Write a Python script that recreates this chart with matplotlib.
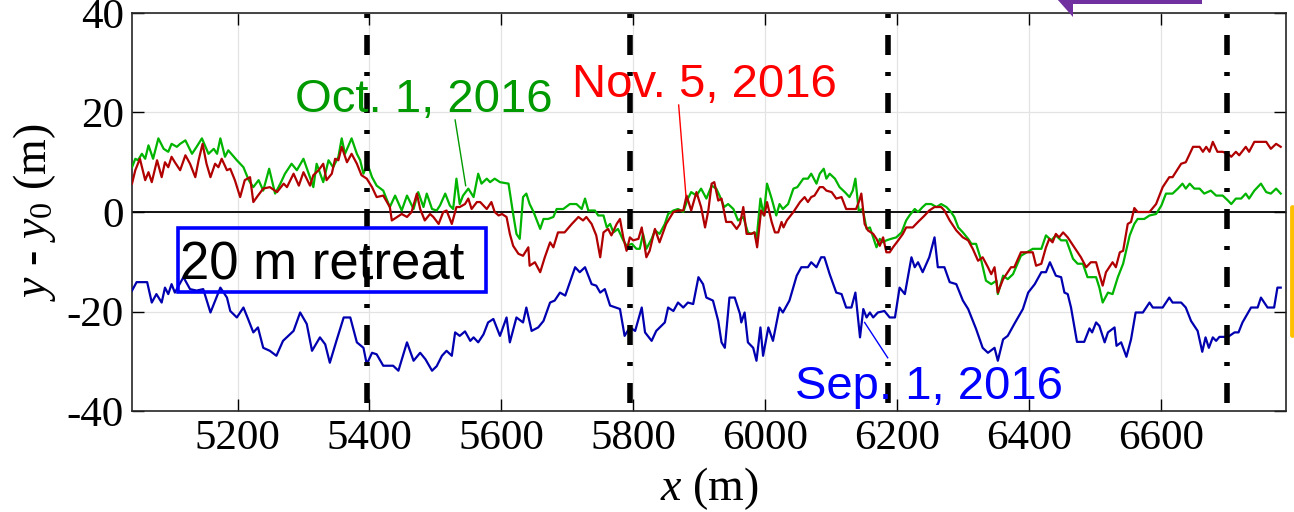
import matplotlib
matplotlib.use('Agg')
import matplotlib.pyplot as plt
from matplotlib.patches import Rectangle, Polygon
from matplotlib.lines import Line2D

# ---- data ----
sep_x = [5040, 5047, 5063, 5070, 5077, 5085, 5090, 5095, 5100, 5105, 5118, 5128, 5138, 5148, 5159,
         5174, 5184, 5189, 5199, 5209, 5216, 5224, 5231, 5239, 5249, 5259, 5269, 5285, 5295, 5305,
         5313, 5325, 5333, 5340, 5350, 5361, 5371, 5381, 5391, 5396, 5404, 5411, 5421, 5436, 5444,
         5457, 5467, 5477, 5485, 5495, 5502, 5510, 5517, 5525, 5530, 5537, 5545, 5553, 5558, 5565,
         5573, 5580, 5588, 5598, 5608, 5613, 5623, 5633, 5638, 5646, 5656, 5664, 5674, 5681, 5689,
         5697, 5712, 5719, 5727, 5737, 5744, 5750, 5757, 5765, 5780, 5787, 5795, 5803, 5813, 5818,
         5828, 5835, 5848, 5853, 5861, 5868, 5876, 5883, 5891, 5899, 5906, 5911, 5921, 5929, 5934,
         5939, 5946, 5954, 5962, 5964, 5969, 5974, 5982, 5987, 5993, 5997, 6005, 6012, 6022, 6027,
         6037, 6048, 6055, 6065, 6070, 6078, 6085, 6090, 6098, 6108, 6116, 6123, 6131, 6137, 6144,
         6149, 6154, 6159, 6164, 6171, 6181, 6189, 6197, 6204, 6212, 6222, 6227, 6232, 6239, 6249,
         6257, 6262, 6272, 6280, 6290, 6300, 6308, 6320, 6330, 6338, 6348, 6353, 6361, 6368, 6378,
         6391, 6399, 6409, 6419, 6426, 6432, 6441, 6449, 6454, 6459, 6464, 6473, 6484, 6492, 6496,
         6502, 6507, 6515, 6520, 6530, 6533, 6540, 6548, 6555, 6562, 6573, 6583, 6588, 6603, 6613,
         6618, 6631, 6638, 6646, 6656, 6663, 6668, 6673, 6679, 6684, 6689, 6702, 6712, 6718, 6724,
         6737, 6747, 6752, 6762, 6772, 6777, 6782]
sep_y = [-15.8, -14.1, -14.1, -18.2, -16.5, -18.2, -15.2, -16.5, -14.5, -16.2, -13.1, -15.5, -15.8, -15.5, -20.2,
         -15.2, -17.2, -19.9, -21.2, -19.2, -21.5, -24.2, -23.2, -27.3, -27.9, -28.9, -25.9, -23.9, -20.2, -22.5,
         -27.9, -25.2, -26.6, -30.3, -25.9, -21.2, -21.2, -26.2, -27.3, -30.6, -28.3, -28.6, -30.9, -30.9, -31.9,
         -26.2, -29.9, -28.3, -29.6, -31.9, -31.0, -28.9, -27.9, -28.9, -24.2, -24.9, -24.0, -25.9, -25.2, -26.2,
         -24.6, -22.2, -21.5, -24.9, -21.2, -26.2, -21.2, -22.2, -19.2, -23.9, -23.2, -21.9, -18.2, -17.8, -16.2,
         -16.8, -11.1, -12.1, -11.1, -14.5, -14.8, -16.2, -15.5, -18.8, -19.5, -24.9, -23.2, -23.9, -19.2, -24.2,
         -25.9, -23.9, -22.2, -19.2, -19.9, -18.2, -19.2, -18.2, -18.5, -13.1, -14.5, -17.2, -17.8, -21.9, -26.2,
         -27.3, -17.2, -17.2, -20.5, -22.2, -20.2, -26.2, -27.3, -29.9, -23.2, -28.9, -23.2, -25.9, -19.2, -20.2,
         -17.8, -12.8, -11.1, -11.1, -10.1, -11.1, -9.1, -9.1, -12.5, -16.2, -16.5, -19.2, -19.2, -16.2, -25.2,
         -19.5, -21.2, -20.2, -21.2, -20.2, -19.9, -21.2, -21.2, -15.2, -16.5, -9.1, -11.1, -10.1, -12.1, -9.1,
         -5.1, -11.1, -11.1, -14.1, -14.5, -17.8, -19.5, -23.5, -27.3, -28.3, -27.3, -29.9, -25.6, -24.9, -22.5,
         -19.5, -16.2, -14.5, -12.1, -12.1, -10.1, -12.8, -13.1, -16.2, -16.5, -19.2, -26.1, -26.1, -23.4, -24.2,
         -22.2, -22.9, -26.2, -24.2, -23.2, -26.9, -26.2, -29.1, -25.6, -20.2, -20.2, -18.2, -19.2, -19.2, -17.2,
         -18.2, -18.2, -19.2, -21.9, -23.9, -28.1, -25.2, -27.3, -25.2, -25.9, -25.1, -25.1, -24.2, -24.2, -22.2,
         -19.2, -19.2, -17.2, -19.2, -19.2, -15.2, -15.2]

oct_x = [5040, 5045, 5049, 5055, 5060, 5065, 5072, 5080, 5088, 5095, 5100, 5108, 5113, 5121, 5131,
         5138, 5146, 5156, 5164, 5169, 5174, 5181, 5186, 5199, 5209, 5217, 5224, 5232, 5239, 5248,
         5257, 5265, 5272, 5282, 5290, 5300, 5308, 5315, 5320, 5330, 5338, 5345, 5353, 5358, 5363,
         5373, 5381, 5386, 5391, 5397, 5404, 5411, 5421, 5431, 5439, 5449, 5457, 5467, 5474, 5482,
         5487, 5495, 5502, 5507, 5515, 5522, 5527, 5532, 5537, 5542, 5550, 5558, 5565, 5570, 5578,
         5583, 5590, 5598, 5611, 5618, 5623, 5628, 5633, 5638, 5643, 5649, 5659, 5664, 5671, 5679,
         5684, 5694, 5704, 5714, 5722, 5727, 5732, 5742, 5747, 5755, 5760, 5765, 5770, 5777, 5785,
         5790, 5798, 5805, 5810, 5815, 5820, 5828, 5833, 5840, 5848, 5853, 5861, 5868, 5876, 5883,
         5888, 5896, 5903, 5911, 5919, 5926, 5931, 5938, 5944, 5952, 5959, 5967, 5974, 5979, 5984,
         5987, 5993, 5998, 6003, 6010, 6017, 6022, 6027, 6035, 6043, 6049, 6058, 6065, 6070, 6078,
         6083, 6089, 6093, 6098, 6106, 6113, 6121, 6128, 6133, 6137, 6142, 6148, 6154, 6159, 6164,
         6169, 6174, 6179, 6184, 6191, 6199, 6207, 6214, 6219, 6227, 6232, 6239, 6244, 6252, 6260,
         6267, 6275, 6282, 6287, 6293, 6300, 6308, 6313, 6320, 6328, 6335, 6343, 6351, 6353, 6361,
         6368, 6376, 6388, 6406, 6419, 6426, 6434, 6441, 6449, 6457, 6467, 6474, 6482, 6489, 6502,
         6507, 6512, 6520, 6527, 6535, 6543, 6553, 6560, 6565, 6575, 6583, 6593, 6601, 6608, 6618,
         6626, 6633, 6638, 6644, 6651, 6659, 6666, 6676, 6684, 6694, 6702, 6707, 6714, 6722, 6729,
         6734, 6742, 6752, 6760, 6767, 6775, 6782]
oct_y = [9.0, 10.7, 10.4, 11.7, 10.7, 13.4, 10.7, 14.8, 12.7, 12.1, 13.7, 13.1, 13.7, 14.4, 11.7,
         13.1, 14.8, 11.7, 12.7, 11.7, 14.8, 11.1, 12.4, 10.4, 9.0, 6.4, 5.0, 6.4, 4.3, 8.7,
         3.7, 5.7, 7.7, 9.7, 8.4, 10.7, 7.7, 5.0, 9.7, 6.0, 10.4, 9.0, 11.1, 14.8, 11.7,
         14.8, 11.7, 10.4, 7.7, 9.7, 7.0, 5.3, 4.3, 1.0, 3.3, 0.3, 3.3, 0.6, 4.0, 1.0,
         3.7, 0.6, 0.3, 1.3, 3.7, 1.3, 0.6, 6.7, 1.6, 3.3, 4.7, 3.0, 7.7, 5.7, 6.7,
         6.0, 6.7, 6.0, 5.7, -0.4, -4.4, -5.4, 3.0, 3.7, 1.6, 0.0, -3.4, -1.4, -1.4, -1.0,
         0.6, 0.6, 1.6, 1.6, 0.6, 2.7, 0.3, 0.3, -0.7, -0.7, -3.1, -2.4, -4.1, -3.4, -5.7,
         -6.8, -6.4, -7.4, -7.4, -4.4, -7.4, -5.4, -3.7, -4.4, -2.4, -0.4, 0.3, 0.6, 0.0, 2.7,
         4.0, 3.3, 4.7, 2.7, 5.3, 4.7, 3.3, 1.0, 1.6, 0.6, -1.7, -1.0, -4.1, -4.4, -4.1,
         -5.7, 2.7, -0.7, 5.7, 2.7, -0.7, 1.6, 0.6, 1.6, 4.7, 5.0, 6.7, 6.7, 7.7, 5.7,
         7.7, 8.7, 6.7, 7.7, 6.7, 5.0, 4.0, 3.0, 4.3, 6.7, 0.3, 0.6, -3.4, -3.1, -5.1,
         -7.1, -5.4, -6.1, -5.7, -5.4, -5.1, -4.1, -1.7, -0.7, 0.6, 0.0, 1.0, 1.6, 1.6, 1.0,
         1.6, 1.0, 0.0, -1.0, -3.1, -4.1, -5.4, -6.4, -6.4, -9.8, -13.8, -14.5, -13.8, -16.5, -12.8,
         -13.5, -12.5, -8.8, -7.4, -7.4, -4.7, -5.7, -4.7, -5.7, -5.7, -9.4, -10.4, -10.4, -13.1, -13.1,
         -15.2, -18.2, -16.2, -16.5, -13.1, -10.4, -4.7, -2.4, -1.4, -1.4, -0.7, -0.4, 1.3, 3.7, 3.7,
         4.7, 5.7, 4.7, 5.7, 4.7, 4.7, 3.7, 4.3, 3.3, 3.3, 2.3, 1.6, 2.7, 2.7, 3.7,
         2.7, 4.3, 5.7, 4.0, 3.7, 4.7, 3.7]

nov_x = [5040, 5045, 5052, 5060, 5065, 5070, 5078, 5085, 5090, 5095, 5100, 5105, 5113, 5121, 5128,
         5136, 5141, 5147, 5153, 5159, 5166, 5171, 5176, 5184, 5189, 5196, 5204, 5211, 5219, 5224,
         5231, 5239, 5249, 5260, 5270, 5275, 5285, 5293, 5300, 5310, 5315, 5323, 5330, 5335, 5343,
         5348, 5353, 5358, 5366, 5373, 5381, 5388, 5396, 5404, 5411, 5421, 5431, 5434, 5442, 5449,
         5457, 5464, 5472, 5477, 5484, 5492, 5497, 5505, 5512, 5517, 5525, 5532, 5537, 5545, 5550,
         5555, 5563, 5568, 5578, 5585, 5590, 5596, 5601, 5608, 5613, 5618, 5626, 5633, 5641, 5643,
         5651, 5659, 5666, 5674, 5679, 5686, 5696, 5707, 5717, 5724, 5729, 5737, 5744, 5750, 5755,
         5762, 5767, 5775, 5780, 5785, 5790, 5795, 5800, 5808, 5813, 5820, 5825, 5833, 5840, 5850,
         5861, 5868, 5876, 5881, 5888, 5896, 5903, 5909, 5914, 5919, 5923, 5929, 5934, 5941, 5949,
         5957, 5962, 5967, 5972, 5979, 5984, 5988, 5994, 5999, 6003, 6010, 6015, 6020, 6025, 6028,
         6033, 6043, 6053, 6060, 6065, 6070, 6075, 6083, 6088, 6093, 6101, 6108, 6116, 6123, 6131,
         6138, 6143, 6146, 6151, 6156, 6164, 6169, 6174, 6179, 6184, 6189, 6194, 6202, 6209, 6214,
         6224, 6232, 6242, 6249, 6257, 6267, 6272, 6280, 6290, 6300, 6308, 6315, 6323, 6330, 6338,
         6343, 6348, 6353, 6361, 6366, 6373, 6378, 6388, 6406, 6411, 6419, 6426, 6431, 6436, 6441,
         6446, 6452, 6459, 6469, 6479, 6487, 6494, 6502, 6507, 6512, 6517, 6527, 6532, 6538, 6543,
         6550, 6555, 6560, 6565, 6583, 6593, 6603, 6613, 6618, 6631, 6638, 6649, 6659, 6664, 6669,
         6674, 6679, 6686, 6694, 6702, 6707, 6714, 6719, 6729, 6734, 6742, 6760, 6767, 6775, 6782]
nov_y = [5.7, 8.4, 10.7, 6.4, 8.0, 6.0, 10.4, 7.0, 10.0, 9.0, 11.1, 10.0, 8.4, 11.4, 9.7,
         7.0, 10.4, 13.7, 9.7, 7.0, 9.7, 9.0, 10.7, 8.4, 8.7, 6.4, 3.0, 6.4, 7.0, 2.0,
         3.3, 4.7, 5.0, 4.0, 5.7, 5.0, 7.7, 5.3, 8.0, 5.3, 7.4, 8.4, 9.7, 6.4, 7.7,
         10.7, 10.4, 13.1, 10.0, 11.7, 9.7, 7.4, 6.7, 5.0, 3.0, 3.3, 1.0, -1.7, -1.0, -0.4,
         -1.0, 0.0, 3.7, 0.6, -1.7, -0.4, -1.0, -2.4, 0.0, 0.3, -2.4, 1.0, 1.0, 1.6, 2.7,
         0.6, 2.0, 2.0, 0.6, 2.0, 0.0, -0.7, -0.4, -1.0, -4.4, -6.8, -8.4, -8.8, -7.1, -10.8,
         -10.1, -12.1, -9.1, -6.1, -7.1, -4.1, -4.1, -2.4, -1.0, -1.7, -1.0, -2.4, -4.7, -9.1, -4.1,
         -3.4, -4.7, -2.4, -1.4, -5.1, -7.8, -5.1, -5.7, -5.4, -3.1, -9.1, -7.8, -3.4, -6.1, -2.4,
         0.0, 0.3, 0.3, 3.3, 0.3, 4.0, 1.0, -3.1, 0.3, 5.7, 6.0, 2.3, 2.7, -2.0, -2.0,
         -3.4, -2.4, 1.0, -4.4, -4.4, -4.1, -7.1, 0.3, -0.7, 2.0, -2.0, -4.1, -4.1, -2.0, -3.1,
         -1.7, 0.0, 2.0, 3.0, 2.0, 3.0, 3.3, 5.0, 5.0, 4.3, 4.0, 2.7, 3.0, 0.6, 0.6,
         0.6, 2.3, 3.7, -2.4, -3.7, -4.4, -5.4, -6.8, -5.1, -8.1, -8.1, -7.1, -5.7, -4.4, -3.1,
         -3.1, -2.0, -0.7, 0.3, 1.0, 1.0, 0.3, -1.7, -3.7, -5.1, -5.7, -7.4, -9.8, -9.1, -11.1,
         -12.5, -11.1, -16.2, -13.5, -12.5, -11.1, -11.1, -8.1, -8.1, -10.8, -10.4, -7.1, -5.4, -6.1, -4.4,
         -5.1, -4.1, -5.1, -7.1, -9.1, -11.1, -10.1, -10.1, -12.5, -14.8, -12.1, -10.1, -11.1, -8.1, -7.8,
         -2.4, -2.0, 0.8, 0.0, 0.0, 1.6, 5.0, 7.0, 7.0, 9.7, 10.0, 13.1, 13.1, 12.1, 13.1,
         12.1, 14.1, 12.1, 12.1, 11.7, 11.1, 12.1, 11.4, 13.1, 12.1, 14.1, 14.1, 12.7, 13.7, 13.1]

boundaries = [5397, 5795, 6186, 6701]
x_ticks = [5200, 5400, 5600, 5800, 6000, 6200, 6400, 6600]
y_ticks = [-40, -20, 0, 20, 40]
y_tick_labels = ['-40', '-20', '0', '20', '40']

plt.rcParams['font.family'] = 'Liberation Serif'
plt.rcParams['mathtext.fontset'] = 'custom'
plt.rcParams['mathtext.rm'] = 'Liberation Serif'
plt.rcParams['mathtext.it'] = 'Liberation Serif:italic'

W, H = 1294, 512
fig = plt.figure(figsize=(W / 100, H / 100), dpi=100)
ax = fig.add_axes([132 / W, 1 - 411 / H, (1286 - 132) / W, (411 - 13) / H])

ax.set_xlim(5040, 6790)
ax.set_ylim(-40, 40)
ax.set_xticks(x_ticks)
ax.set_yticks(y_ticks)
ax.set_yticklabels(y_tick_labels)
ax.grid(True, color='#e3e3e3', lw=0.9)
ax.set_axisbelow(True)
ax.tick_params(direction='in', length=8.5, width=1.0, top=True, right=True,
               labelsize=31, pad=6, colors='black')
for s in ax.spines.values():
    s.set_color('#262626')
    s.set_linewidth(1.2)

# series
ax.plot(sep_x, sep_y, color='#0000B0', lw=1.6, zorder=3)
ax.plot(oct_x, oct_y, color='#00B400', lw=1.6, zorder=3)
ax.plot(nov_x, nov_y, color='#B00000', lw=1.6, zorder=4)
ax.axhline(0, color='black', lw=1.3, zorder=2)

# section boundaries
ax.vlines(boundaries, -40, 40, colors='black', lw=4,
          linestyles=[(9.0, (3.6, 3.06, 0.72, 3.06))], zorder=5)

# annotations
sans = ['Liberation Sans', 'DejaVu Sans']
ax.text(5287, 20.1, 'Oct. 1, 2016', color='#009A00', fontsize=34, family=sans,
        ha='left', va='baseline', zorder=6)
ax.plot([5530, 5546], [18.5, 5.3], color='#009A00', lw=1.0, zorder=6)
ax.text(5707, 23.1, 'Nov. 5, 2016', color='#FF0000', fontsize=34, family=sans,
        ha='left', va='baseline', zorder=6)
ax.plot([5869, 5880], [21.5, 3.3], color='#FF0000', lw=1.0, zorder=6)
ax.text(6045, -37.6, 'Sep. 1, 2016', color='#0000FF', fontsize=34, family=sans,
        ha='left', va='baseline', zorder=6)
ax.plot([6151, 6186], [-22.2, -29.3], color='#0000FF', lw=1.0, zorder=6)

ax.add_patch(Rectangle((5110, -16.0), 467, 12.8, fill=False, ec='#0000FF', lw=2.6, zorder=6))
ax.text(5113, -13.6, '20 m retreat', color='black', fontsize=38, family=sans,
        ha='left', va='baseline', zorder=7)

ax.set_xlabel('$x$ (m)', fontsize=33, labelpad=5)
ax.set_ylabel('$y$ - $y_{\\mathit{0}}$ (m)', fontsize=33, labelpad=6)

# bits of neighbouring panels cropped into the frame
arrow = Polygon([(1049 / W, 1 + 10 / H), (1073 / W, 1 - 17 / H), (1073 / W, 1 - 4 / H),
                 (1202 / W, 1 - 4 / H), (1202 / W, 1 + 30 / H), (1073 / W, 1 + 30 / H)],
                closed=True, transform=fig.transFigure, fc='#7030A0', ec='none', clip_on=False)
fig.patches.append(arrow)
fig.lines.append(Line2D([1292 / W, 1292 / W], [1 - 207 / H, 1 - 335 / H], transform=fig.transFigure,
                        color='#FFC000', lw=3.5, solid_capstyle='round'))

fig.savefig('out.png', dpi=100)
